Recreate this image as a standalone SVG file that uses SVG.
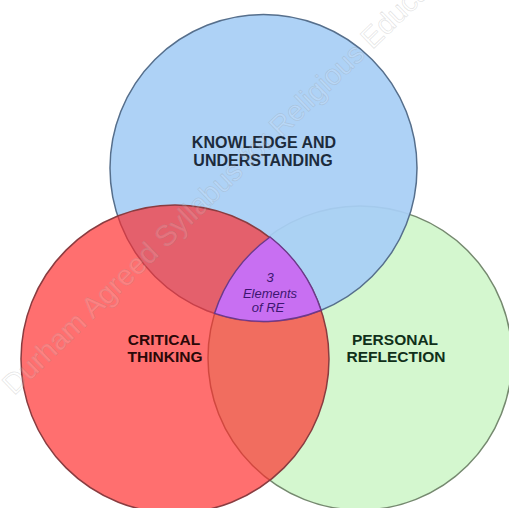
<svg xmlns="http://www.w3.org/2000/svg" width="509" height="508" viewBox="0 0 509 508">
<style>
.lbl{font-family:"Liberation Sans",Arial,sans-serif;font-weight:bold;text-anchor:middle}
.ctr{font-family:"Liberation Sans",Arial,sans-serif;font-style:italic;text-anchor:middle;font-size:13px;fill:#3d1670}
.wm{font-family:"Liberation Sans",Arial,sans-serif;font-size:29px;fill:#ffffff;fill-opacity:0.14;stroke:#8a8a8a;stroke-opacity:0.22;stroke-width:0.8}
</style>
<rect width="509" height="508" fill="#ffffff"/>
<g id="personal-reflection">
<circle cx="360" cy="358" r="152" fill="#d4f7cf" stroke="#75896f" stroke-width="1.5"/>
</g>
<g id="knowledge-understanding">
<circle cx="263.5" cy="168" r="153.5" fill="#a8cff5" fill-opacity="0.93" stroke="#566f8c" stroke-width="1.5"/>
</g>
<g id="critical-thinking">
<circle cx="175" cy="359" r="154" fill="#ff2828" fill-opacity="0.67" stroke="#8a3c40" stroke-width="1.5"/>
</g>
<g id="three-elements">
<path d="M270,237 A152,152 0 0 0 214.5,313.4 A153.5,153.5 0 0 0 321.1,310.3 A154,154 0 0 0 270,237 Z" fill="#c86ff2" stroke="#6b3a8a" stroke-width="1.5"/>
</g>
<g id="connectors"></g>
<g id="labels">
<text class="lbl" x="264" y="148" font-size="16" fill="#1c2b3c">KNOWLEDGE AND</text>
<text class="lbl" x="263" y="166" font-size="16" fill="#1c2b3c">UNDERSTANDING</text>
<text class="lbl" x="164" y="345" font-size="15.5" fill="#2a0808">CRITICAL</text>
<text class="lbl" x="165" y="362" font-size="15.5" fill="#2a0808">THINKING</text>
<text class="lbl" x="395" y="345" font-size="15.5" fill="#10301a">PERSONAL</text>
<text class="lbl" x="396" y="362" font-size="15.5" fill="#10301a">REFLECTION</text>
<text class="ctr" x="270" y="282">3</text>
<text class="ctr" x="270" y="298">Elements</text>
<text class="ctr" x="268" y="312">of RE</text>
</g>
<text class="wm" x="14" y="396" transform="rotate(-44 14 396)">Durham Agreed Syllabus for Religious Education</text>
</svg>
